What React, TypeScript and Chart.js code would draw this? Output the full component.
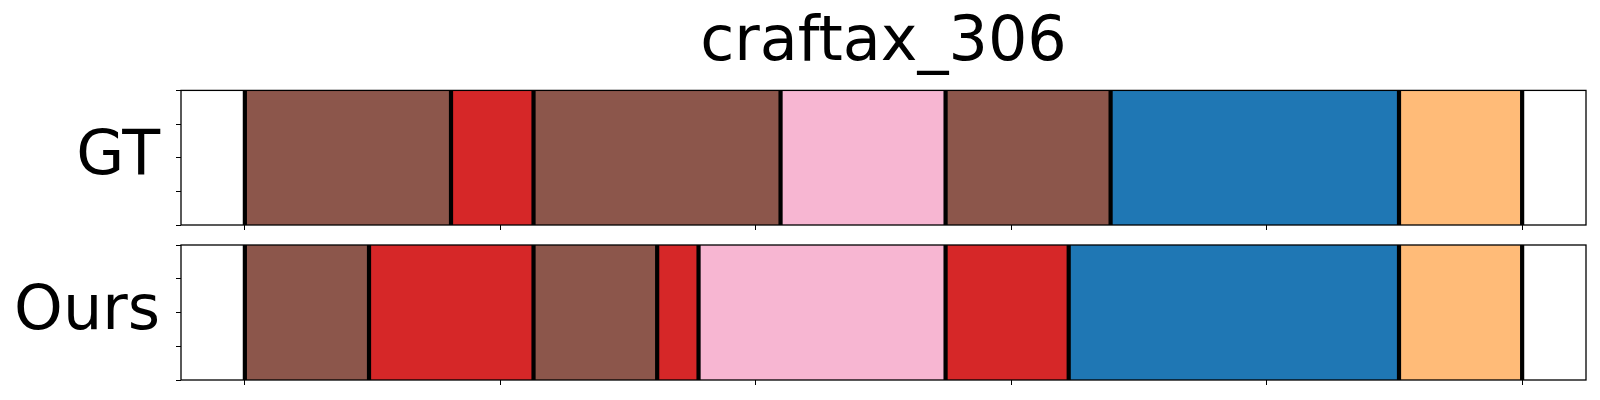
import React, { useEffect, useRef } from 'react';
import { Chart, registerables } from 'chart.js';

Chart.register(...registerables);

// ---- data ----
const TITLE = 'craftax_306';
const rowLabels = ['GT', 'Ours'];
const gtBounds = [0, 80.7, 113, 209.7, 274.3, 338.9, 451.8, 500];
const gtClasses = [0, 1, 0, 2, 0, 3, 4];
const oursBounds = [0, 48.6, 113, 161.4, 177.6, 274.3, 322.5, 451.8, 500];
const oursClasses = [0, 1, 0, 1, 2, 1, 3, 4];
const xTicks = [0, 100, 200, 300, 400, 500];
const yTicks = [0, 0.25, 0.5, 0.75, 1];
const xMin = -25;
const xMax = 525;

// ---- styles ----
const classColors = ['#8c564b', '#d62728', '#f7b6d2', '#1f77b4', '#ffbb78'];
const FONT = 'DejaVu Sans';
const TICK_LEN = 5;

function makeChart(
  canvas: HTMLCanvasElement,
  label: string,
  bounds: number[],
  classes: number[],
  withTitle: boolean,
  padding: { top: number; right: number; bottom: number; left: number }
) {
  const framePlugin = {
    id: 'segFrame',
    afterDatasetsDraw(chart: any) {
      const { ctx, chartArea: a, scales } = chart;
      ctx.save();
      ctx.strokeStyle = '#000';
      // segment boundary lines
      ctx.lineWidth = 4.2;
      bounds.forEach((v) => {
        const x = scales.x.getPixelForValue(v);
        ctx.beginPath();
        ctx.moveTo(x, a.top);
        ctx.lineTo(x, a.bottom);
        ctx.stroke();
      });
      // axes frame
      ctx.lineWidth = 1.3;
      ctx.strokeRect(a.left, a.top, a.right - a.left, a.bottom - a.top);
      ctx.restore();
    },
  };

  const datasets = classes.map((c, i) => ({
    label: `${label}-${i}`,
    data: [[bounds[i], bounds[i + 1]]],
    backgroundColor: classColors[c],
    borderWidth: 0,
    grouped: false,
    barPercentage: 1,
    categoryPercentage: 1,
    xAxisID: 'x',
    yAxisID: 'y',
  }));

  return new Chart(canvas, {
    type: 'bar',
    data: { labels: [label], datasets: datasets as any },
    plugins: [framePlugin],
    options: {
      indexAxis: 'y',
      animation: false,
      responsive: false,
      maintainAspectRatio: false,
      layout: { padding },
      plugins: {
        legend: { display: false },
        tooltip: { enabled: false },
        title: {
          display: withTitle,
          text: TITLE,
          fullSize: false,
          color: '#000',
          font: { family: FONT, size: 62, weight: 'normal' },
          padding: { top: 7, bottom: 9 },
        },
      },
      scales: {
        x: {
          type: 'linear',
          min: xMin,
          max: xMax,
          offset: false,
          afterBuildTicks: (s: any) => {
            s.ticks = xTicks.map((v) => ({ value: v }));
          },
          ticks: { display: false },
          grid: {
            offset: false,
            drawOnChartArea: false,
            drawTicks: true,
            tickLength: TICK_LEN,
            color: '#000',
            lineWidth: 1,
          },
          border: { display: false },
        },
        y: {
          type: 'category',
          position: 'left',
          weight: 1,
          grid: { display: false, drawTicks: false, tickLength: 0 },
          border: { display: false },
          ticks: { font: { family: FONT, size: 62 }, color: '#000', padding: 16 },
          afterFit: (s: any) => {
            s.width = 176;
            s.paddingTop = 0;
            s.paddingBottom = 0;
          },
        },
        y2: {
          type: 'linear',
          position: 'left',
          weight: 0,
          min: 0,
          max: 1,
          offset: false,
          afterBuildTicks: (s: any) => {
            s.ticks = yTicks.map((v) => ({ value: v }));
          },
          ticks: { display: false, stepSize: 0.25 },
          grid: {
            offset: false,
            drawOnChartArea: false,
            drawTicks: true,
            tickLength: TICK_LEN,
            color: '#000',
            lineWidth: 1,
          },
          border: { display: false },
          afterFit: (s: any) => {
            s.width = TICK_LEN;
            s.paddingTop = 0;
            s.paddingBottom = 0;
          },
        },
      },
    } as any,
  });
}

export default function App() {
  const topRef = useRef<HTMLCanvasElement>(null);
  const botRef = useRef<HTMLCanvasElement>(null);

  useEffect(() => {
    const c1 = makeChart(topRef.current!, rowLabels[0], gtBounds, gtClasses, true, {
      top: 0,
      right: 14,
      bottom: 2,
      left: 0,
    });
    const c2 = makeChart(botRef.current!, rowLabels[1], oursBounds, oursClasses, false, {
      top: 13,
      right: 14,
      bottom: 15,
      left: 0,
    });
    return () => {
      c1.destroy();
      c2.destroy();
    };
  }, []);

  return (
    <div style={{ position: 'fixed', left: 0, top: 0, width: 1600, height: 400, background: '#fff' }}>
      <canvas
        ref={topRef}
        width={1600}
        height={232}
        style={{ position: 'absolute', left: 0, top: 0, width: 1600, height: 232 }}
      />
      <canvas
        ref={botRef}
        width={1600}
        height={168}
        style={{ position: 'absolute', left: 0, top: 232, width: 1600, height: 168 }}
      />
    </div>
  );
}
